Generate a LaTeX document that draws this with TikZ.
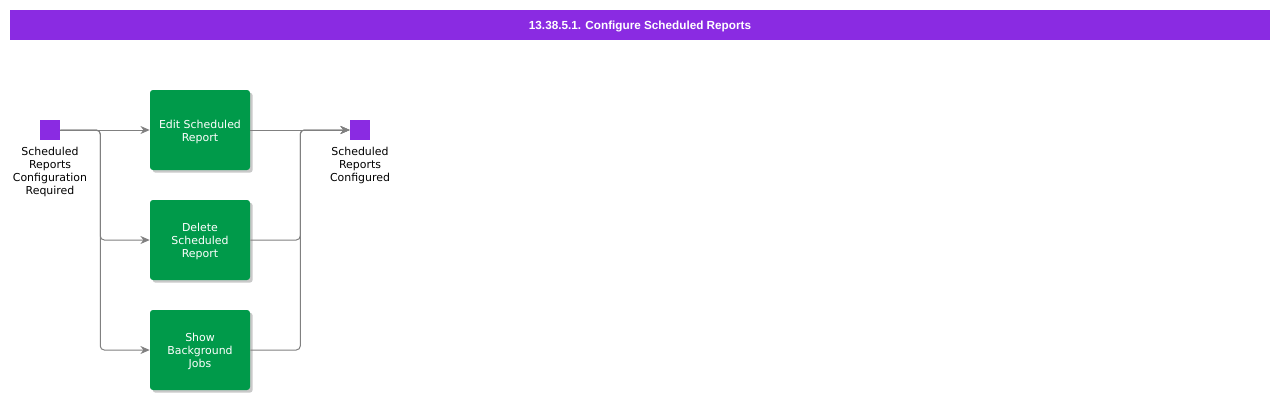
\documentclass[tikz,border=0pt]{standalone}
\usepackage{fontspec}
\setmainfont{DejaVu Sans}
\newfontfamily\hdrfont{Liberation Sans}
\usetikzlibrary{shadows,arrows.meta}
\definecolor{hdr}{HTML}{8A2BE2}
\definecolor{boxg}{HTML}{009A4A}
\definecolor{lineg}{HTML}{808080}
\newcommand\btxt[1]{\raisebox{-1.6pt}[\height][\depth]{\begin{tabular}{@{}c@{}}#1\end{tabular}}}
\begin{document}
\begin{tikzpicture}[x=0.75pt,y=-0.75pt,
  task/.style={draw=none,fill=boxg,rounded corners=2.2pt,minimum width=75pt,minimum height=60pt,
    text=white,font=\fontsize{8.2}{9.75}\selectfont,align=center,inner sep=0pt,
    drop shadow={shadow xshift=2pt,shadow yshift=-2pt,opacity=0.35,fill=black!60}},
  event/.style={draw=none,fill=hdr,minimum size=15pt,inner sep=0pt},
  lbl/.style={font=\fontsize{8.2}{9.75}\selectfont,align=center,inner sep=0pt,anchor=north},
  conn/.style={draw=lineg,line width=0.75pt,rounded corners=3pt,-{Stealth[length=7pt,width=6pt]}}]
\useasboundingbox (0,0) rectangle (1280,400);
\fill[white] (0,0) rectangle (1280,400);
\node[fill=hdr,minimum width=945pt,minimum height=22.5pt,inner sep=0pt,text=white,
  text height=6.4pt,text depth=0pt,
  font=\hdrfont\bfseries\fontsize{8.8}{10}\selectfont] (title) at (640,25) {13.38.5.1. Configure Scheduled Reports};
\node[event] (start) at (50,130) {};
\node[lbl] (startl) at (50,146.5) {Scheduled\\Reports\\Configuration\\Required};
\node[task] (b1) at (200,130) {\btxt{Edit Scheduled\\Report}};
\node[task] (b2) at (200,240) {\btxt{Delete\\Scheduled\\Report}};
\node[task] (b3) at (200,350) {\btxt{Show\\Background\\Jobs}};
\node[event] (end) at (360,130) {};
\node[lbl] (endl) at (360,146.5) {Scheduled\\Reports\\Configured};
\draw[conn] (start.east) -- (b1.west);
\draw[conn] (start.east) -- ++(40,0) |- (b2.west);
\draw[conn] (start.east) -- ++(40,0) |- (b3.west);
\draw[conn] (b1.east) -- (end.west);
\draw[conn] (b2.east) -- ++(50,0) |- (end.west);
\draw[conn] (b3.east) -- ++(50,0) |- (end.west);
\end{tikzpicture}
\end{document}
